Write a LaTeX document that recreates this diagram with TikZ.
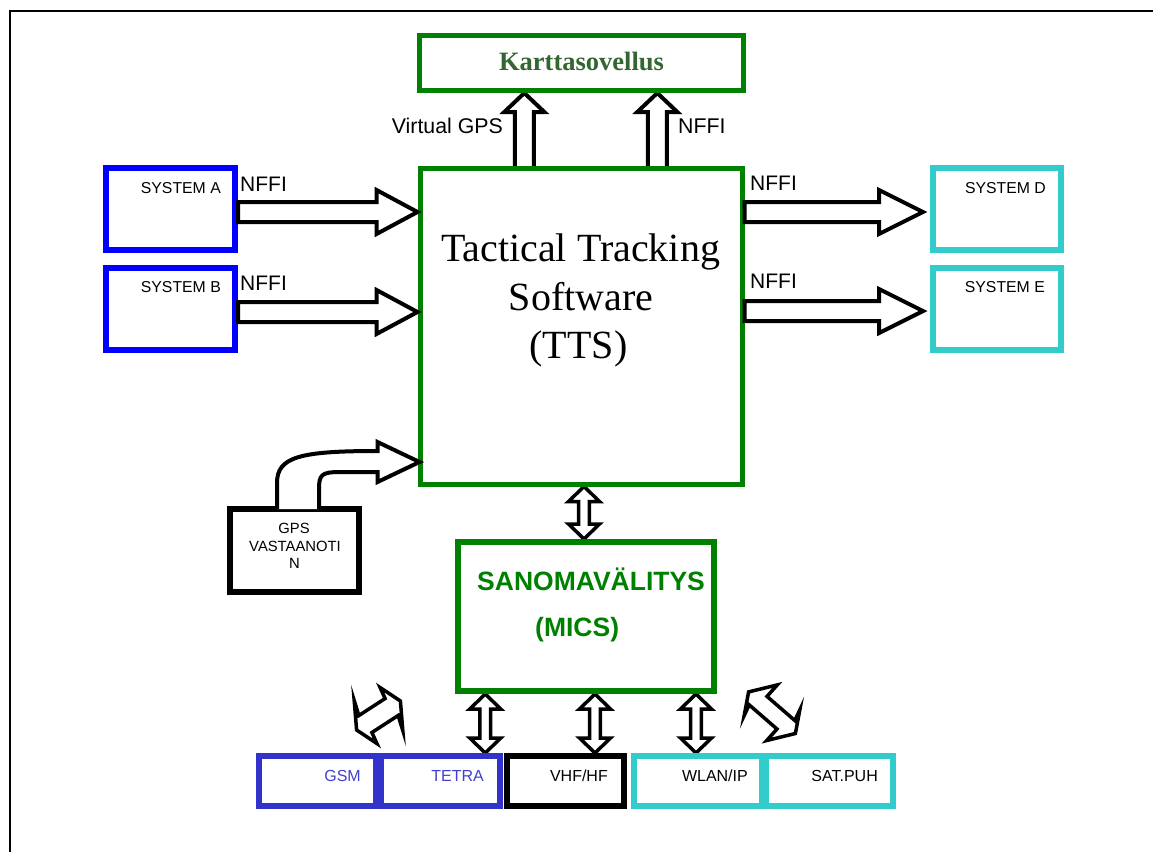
\documentclass[tikz,border=0pt]{standalone}
\usepackage{fontspec}
\setmainfont{Liberation Serif}
\setsansfont{Liberation Sans}
\usetikzlibrary{calc}

\definecolor{boxgreen}{HTML}{008000}
\definecolor{titlegreen}{HTML}{336633}
\definecolor{sysblue}{HTML}{0000FF}
\definecolor{radioblue}{HTML}{3333CC}
\definecolor{radiotext}{HTML}{4040CC}
\definecolor{sysaqua}{HTML}{33CCCC}

\pgfdeclarelayer{bg}
\pgfsetlayers{bg,main}

\tikzset{
  panel/.style={draw, line width=6pt, inner sep=0pt, fill=none},
  blk/.style={draw=black, fill=white, line width=4pt, line join=miter},
  thinblk/.style={draw=black, fill=white, line width=3.5pt, line join=miter},
  sanslbl/.style={font=\sffamily\fontsize{#1}{#1}\selectfont, inner sep=0pt},
}

% horizontal block arrow: start, tip, head length
\newcommand\hblock[3]{%
  \draw[blk] ($(#1)+(0,-10)$) -- ($(#2)+(-#3,-10)$) -- ($(#2)+(-#3,-22)$) -- (#2)
    -- ($(#2)+(-#3,22)$) -- ($(#2)+(-#3,10)$) -- ($(#1)+(0,10)$) -- cycle;}
% upward block arrow: start, tip
\newcommand\ublock[2]{%
  \draw[blk] ($(#1)+(-9.5,0)$) -- ($(#2)+(-9.5,19)$) -- ($(#2)+(-20,19)$) -- (#2)
    -- ($(#2)+(20,19)$) -- ($(#2)+(9.5,19)$) -- ($(#1)+(9.5,0)$) -- cycle;}
% vertical double block arrow: upper tip, lower tip
\newcommand\vdouble[2]{%
  \draw[thinblk] (#1) -- ($(#1)+(15.5,15)$) -- ($(#1)+(5.3,15)$) -- ($(#2)+(5.3,-15)$)
    -- ($(#2)+(15.5,-15)$) -- (#2) -- ($(#2)+(-15.5,-15)$) -- ($(#2)+(-5.3,-15)$)
    -- ($(#1)+(-5.3,15)$) -- ($(#1)+(-15.5,15)$) -- cycle;}

\begin{document}
\begin{tikzpicture}[x=1pt,y=-1pt]
\useasboundingbox (0,0) rectangle (1153,852);

% page frame
\draw[line width=2pt] (9.5,852) -- (9.5,11) -- (1153,11);

% boxes
\node[panel, draw=boxgreen, line width=5pt, minimum width=323.5pt, minimum height=55pt] (kart) at (581.3,63) {};
\node[panel, draw=boxgreen, line width=5pt, minimum width=322pt, minimum height=316pt] (tts) at (581,326) {};
\node[panel, draw=sysblue, minimum width=129pt, minimum height=82pt] (sysA) at (170.5,209) {};
\node[panel, draw=sysblue, minimum width=129pt, minimum height=82pt] (sysB) at (170.5,309) {};
\node[panel, draw=sysaqua, minimum width=128pt, minimum height=82pt] (sysD) at (997,209) {};
\node[panel, draw=sysaqua, minimum width=128pt, minimum height=82pt] (sysE) at (997,309) {};
\node[panel, draw=black, minimum width=129pt, minimum height=83pt] (gps) at (294.5,550.5) {};
\node[panel, draw=boxgreen, minimum width=256pt, minimum height=149pt] (mics) at (586,616.5) {};
\node[panel, draw=radioblue, minimum width=116.5pt, minimum height=50pt] (gsm) at (317.25,781) {};
\node[panel, draw=radioblue, minimum width=118.5pt, minimum height=50pt] (tetra) at (440.25,781) {};
\node[panel, draw=black, minimum width=117pt, minimum height=50pt] (vhf) at (565.5,781) {};
\node[panel, draw=sysaqua, minimum width=128pt, minimum height=50pt] (wlan) at (698,781) {};
\node[panel, draw=sysaqua, minimum width=127pt, minimum height=50pt] (sat) at (829.5,781) {};

% texts
\node[font=\bfseries\fontsize{26.5}{30}\selectfont, text=titlegreen, anchor=base, inner sep=0pt] (kartl) at (581.5,70) {Karttasovellus};
\node[font=\fontsize{40}{48}\selectfont, anchor=base, inner sep=0pt] (tts1) at (580.5,261) {Tactical Tracking};
\node[font=\fontsize{40}{48}\selectfont, anchor=base, inner sep=0pt] (tts2) at (581,310) {Software};
\node[font=\fontsize{40}{48}\selectfont, anchor=base, inner sep=0pt] (tts3) at (578.5,358) {(TTS)};

\node[sanslbl=15.8, anchor=base east] (sysAl) at (221,193) {SYSTEM A};
\node[sanslbl=15.8, anchor=base east] (sysBl) at (221,292) {SYSTEM B};
\node[sanslbl=15.8, anchor=base east] (sysDl) at (1046,193) {SYSTEM D};
\node[sanslbl=15.8, anchor=base east] (sysEl) at (1045,292) {SYSTEM E};

\node[sanslbl=21, anchor=base west] (nA) at (240,191) {NFFI};
\node[sanslbl=21, anchor=base west] (nB) at (240,290) {NFFI};
\node[sanslbl=21, anchor=base west] (nD) at (750,190) {NFFI};
\node[sanslbl=21, anchor=base west] (nE) at (750,288) {NFFI};
\node[sanslbl=21.3, anchor=base east] (vgps) at (503,133) {Virtual GPS};
\node[sanslbl=21.3, anchor=base west] (nK) at (678,133) {NFFI};

\node[sanslbl=14.8, anchor=base] (gps1) at (294,533.5) {GPS};
\node[sanslbl=14.8, anchor=base] (gps2) at (295,551) {VASTAANOTI};
\node[sanslbl=14.8, anchor=base] (gps3) at (294.5,568) {N};

\node[sanslbl=26.5, font=\sffamily\bfseries\fontsize{26.5}{30}\selectfont, text=boxgreen, anchor=base west] (mics1) at (477,590.5) {SANOMAVÄLITYS};
\node[sanslbl=26.5, font=\sffamily\bfseries\fontsize{26.5}{30}\selectfont, text=boxgreen, anchor=base west] (mics2) at (535,636.7) {(MICS)};

\node[sanslbl=16, text=radiotext, anchor=base east] (gsml) at (361,781) {GSM};
\node[sanslbl=16, text=radiotext, anchor=base east] (tetral) at (484,781) {TETRA};
\node[sanslbl=16, anchor=base east] (vhfl) at (608,781) {VHF/HF};
\node[sanslbl=16, anchor=base east] (wlanl) at (748,781.5) {WLAN/IP};
\node[sanslbl=16, anchor=base east] (satl) at (878,781.5) {SAT.PUH};

% connector end points
\coordinate (aS) at ($(sysA.east)+(0,3)$);  \coordinate (aT) at (tts.west |- aS);
\coordinate (bS) at ($(sysB.east)+(0,3)$);  \coordinate (bT) at (tts.west |- bS);
\coordinate (dT) at ($(sysD.west)+(-7,3)$); \coordinate (dS) at (tts.east |- dT);
\coordinate (eT) at ($(sysE.west)+(-7,2)$); \coordinate (eS) at (tts.east |- eT);
\coordinate (u1T) at ($(kart.south)+(-57,0)$); \coordinate (u1S) at ($(tts.north -| u1T)+(0,3)$);
\coordinate (u2T) at ($(kart.south)+(76,0)$);  \coordinate (u2S) at ($(tts.north -| u2T)+(0,3)$);
\coordinate (mT) at ($(tts.south)+(3,0)$);  \coordinate (mB) at (mT |- mics.north);
\coordinate (r1T) at ($(mics.south -| tetra.north)+(45,0)$); \coordinate (r1B) at (r1T |- tetra.north);
\coordinate (r2T) at ($(mics.south -| vhf.north)+(29.5,0)$); \coordinate (r2B) at (r2T |- vhf.north);
\coordinate (r3T) at ($(mics.south -| wlan.north)+(-2,0)$);  \coordinate (r3B) at (r3T |- wlan.north);
\coordinate (g1) at ($(gps.north)+(-17.5,3)$);
\coordinate (g2) at ($(gps.north)+(24.5,3)$);
\coordinate (gT) at ($(tts.west)+(2,136)$);
\coordinate (dgL) at (378.5,715.5);
\coordinate (dgR) at (772,712.7);

% arrows that end under box outlines
\begin{pgfonlayer}{bg}
  \ublock{u1S}{u1T}
  \ublock{u2S}{u2T}
  \vdouble{mT}{mB}
  \vdouble{r1T}{r1B}
  \vdouble{r2T}{r2B}
  \vdouble{r3T}{r3B}
\end{pgfonlayer}

% NFFI flows
\hblock{aS}{aT}{41}
\hblock{bS}{bT}{41}
\hblock{dS}{dT}{44}
\hblock{eS}{eT}{44}

% GPS receiver feed
\draw[blk] (g1) -- ($(g1)+(0,-26)$) .. controls ($(g1)+(0,-52)$) and ($(gT)+(-120,-11)$) .. ($(gT)+(-42,-11)$)
  -- ($(gT)+(-42,-20)$) -- (gT) -- ($(gT)+(-42,20)$) -- ($(gT)+(-42,10)$) -- ($(gT)+(-80,10)$)
  .. controls ($(gT)+(-98,10)$) and ($(g2)+(0,-34)$) .. ($(g2)+(0,-20)$) -- (g2);

% slanted two-way links
\draw[thinblk, shift={(dgL)}] (1.6,-28) -- (21.9,-14.5) -- (24.3,15) -- (19.6,0) -- (-6.6,17)
  -- (-1.6,28) -- (-21.9,14.5) -- (-24.3,-15) -- (-19.6,0) -- (6.6,-17) -- cycle;
\draw[thinblk, shift={(dgR)}] (-23.4,-20.8) -- (5.3,-27.8) -- (-5,-16.3) -- (22.8,7.8) -- (27.8,-2.8)
  -- (23.4,20.8) -- (-5.3,27.8) -- (5,16.3) -- (-22.8,-7.8) -- (-27.8,2.8) -- cycle;
\end{tikzpicture}
\end{document}
